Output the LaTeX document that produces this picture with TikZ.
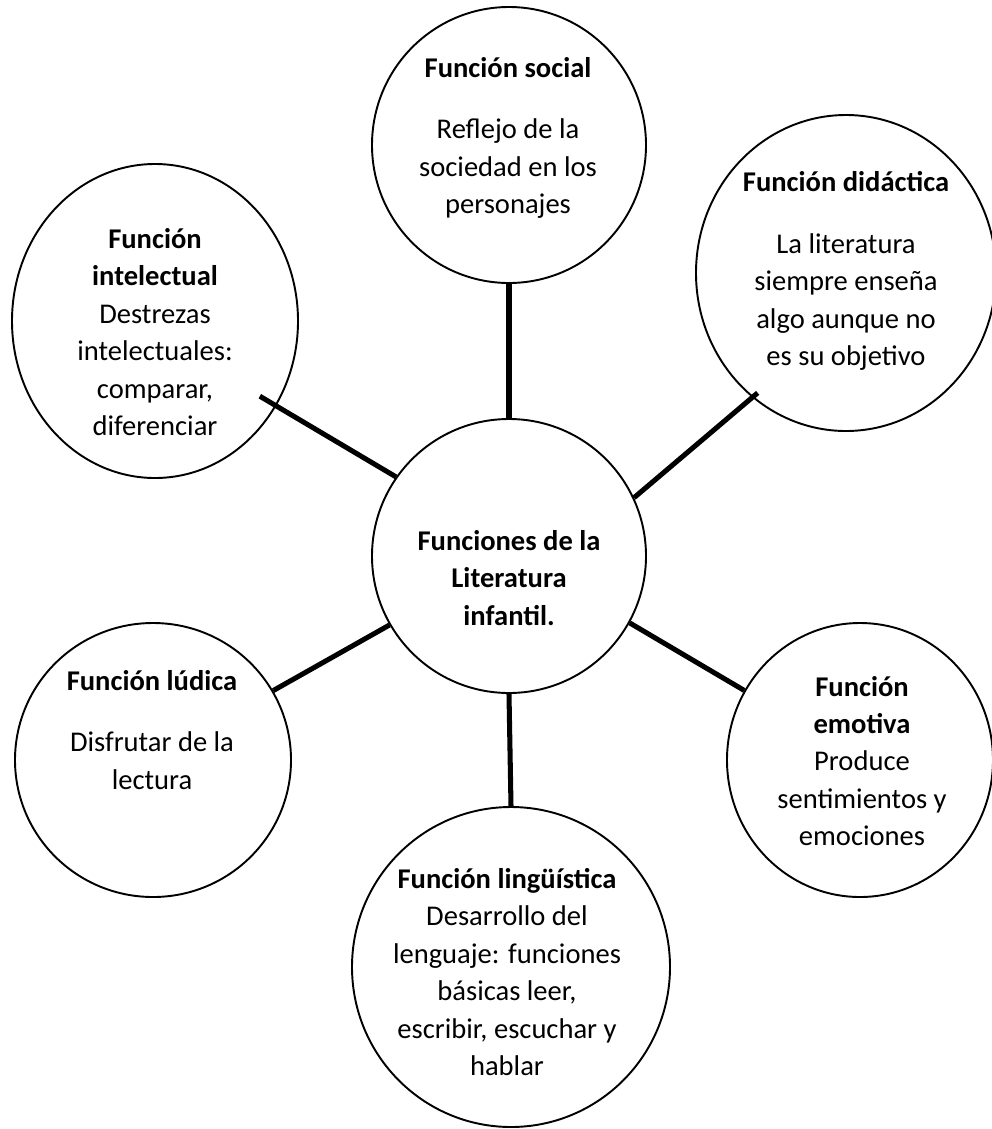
\documentclass[tikz,border=0pt]{standalone}
\usepackage{fontspec}
\setmainfont{Carlito}
\usetikzlibrary{shapes.geometric}
\def\pxu{0.4167pt}

\begin{document}
\begin{tikzpicture}[x=0.4167pt, y=-0.4167pt,
	funcion/.style={draw, ellipse, line width=0.8pt, inner sep=0pt},
	enlace/.style={line width=2.1pt},
	texto/.style={align=center, font=\fontsize{11.9}{15.6}\selectfont}]
	\useasboundingbox (0,0) rectangle (992,1129);

	\foreach \nombre/\x/\y/\rx/\ry in {centro/509/556/137/137, social/509/145/137/138,
		didactica/846/273/150/158, intelectual/155/321/143/157, ludica/153/760/138/137,
		emotiva/860/760/133/137, linguistica/511/967/159/160}{
		\node[funcion, minimum width=2*\rx*\pxu, minimum height=2*\ry*\pxu] (\nombre) at (\x,\y) {};
	}

	\node[texto] (centrotxt) at (509,578) {\textbf{Funciones de la}\\\textbf{Literatura}\\\textbf{infantil.}};
	\node[texto] (socialtxt) at (508,138) {\textbf{Función social}\\[10pt]Reflejo de la\\sociedad en los\\personajes};
	\node[texto] (didacticatxt) at (846,271) {\textbf{Función didáctica}\\[10pt]La literatura\\siempre enseña\\algo aunque no\\es su objetivo};
	\node[texto] (intelectualtxt) at (155,332) {\textbf{Función}\\\textbf{intelectual}\\Destrezas\\intelectuales:\\comparar,\\diferenciar};
	\node[texto] (ludicatxt) at (152,730) {\textbf{Función lúdica}\\[10pt]Disfrutar de la\\lectura};
	\node[texto] (emotivatxt) at (862,761) {\textbf{Función}\\\textbf{emotiva}\\Produce\\sentimientos y\\emociones};
	\node[texto] (linguisticatxt) at (507,972) {\textbf{Función lingüística}\\Desarrollo del\\lenguaje: funciones\\básicas leer,\\escribir, escuchar y\\hablar};

	\draw[enlace] (social.south) -- (centro.north);
	\draw[enlace, shorten >=-3pt] (centro.25) -- (didactica.233);
	\draw[enlace, shorten >=-8pt] (centro.145) -- (intelectual.-35);
	\draw[enlace] (centro.210) -- (ludica.30);
	\draw[enlace] (centro.-29) -- (emotiva.149);
	\draw[enlace] (centro.south) -- (linguistica.north);
\end{tikzpicture}
\end{document}
